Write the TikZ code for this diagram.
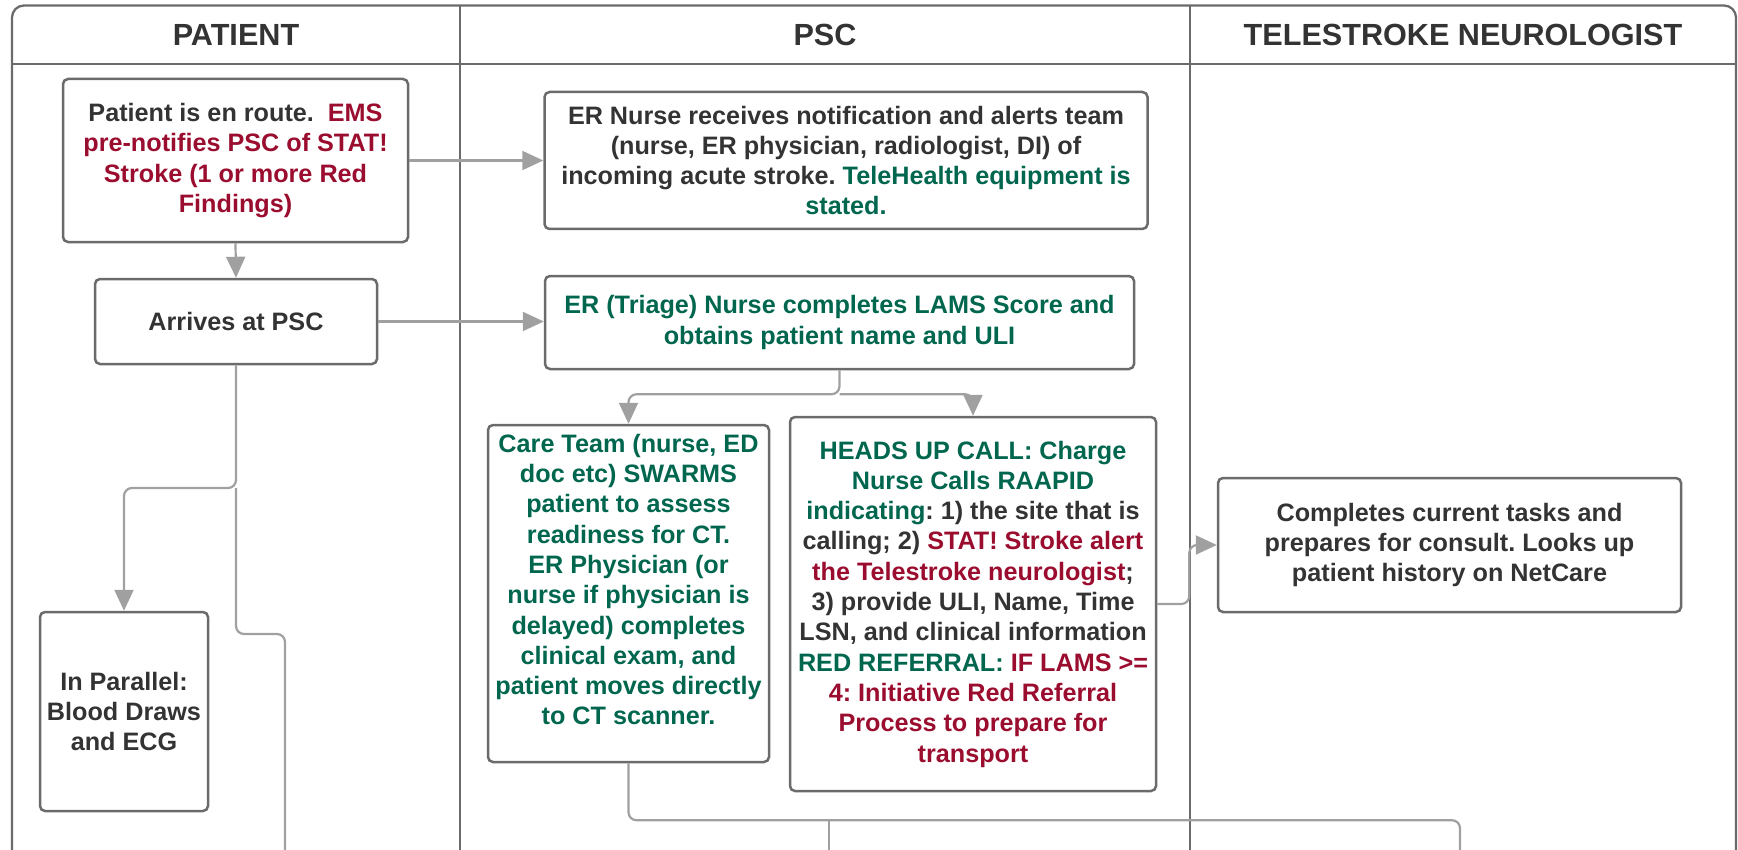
\documentclass[tikz,border=0pt]{standalone}
\usepackage{fontspec}
\setmainfont{Liberation Sans}
\usetikzlibrary{arrows.meta,positioning}
\frenchspacing
\definecolor{txtdark}{HTML}{333333}
\definecolor{strokered}{HTML}{9B0D2F}
\definecolor{teamgreen}{HTML}{00664E}
\definecolor{boxgray}{HTML}{6B6B6B}
\definecolor{linegray}{HTML}{A0A0A0}
\newcommand\redtext[1]{\textcolor{strokered}{#1}}
\newcommand\greentext[1]{\textcolor{teamgreen}{#1}}
\tikzset{box/.style={rectangle,rounded corners=2.5pt,draw=boxgray,line width=1.25pt,align=center,text=txtdark,inner sep=0pt,font=\bfseries\fontsize{12.6}{15.15}\selectfont}}
\tikzset{head/.style={text=txtdark,font=\bfseries\fontsize{15.3}{18}\selectfont}}
\tikzset{lane/.style={draw=boxgray,line width=1.15pt}}
\tikzset{link/.style={draw=linegray,line width=1.1pt,rounded corners=4pt}}
\tikzset{arrow/.style={link,-{Triangle[length=10.5pt,width=9.5pt]}}}

\begin{document}
\begin{tikzpicture}[x=0.5pt,y=-0.5pt]
                \useasboundingbox (0,0) rectangle (1738,850);
                \draw[lane,rounded corners=6pt] (12,850) -- (12,5.5) -- (1736,5.5) -- (1736,850);
                \draw[lane] (12,64) -- (1736,64);
                \foreach \x in {460,1190}{\draw[lane] (\x,5.5) -- (\x,850);}
                \foreach \x/\lbl/\nm in {236/PATIENT/hpat,825/PSC/hpsc,1463/TELESTROKE NEUROLOGIST/htel}{\node[head] (\nm) at (\x,35) {\lbl};}

                \node[box,minimum width=172.5pt,minimum height=81.5pt] (enroute) at (235.5,160.5) {Patient is en route.~ \redtext{EMS}\\ \redtext{pre-notifies PSC of STAT!}\\ \redtext{Stroke (1 or more Red}\\ \redtext{Findings)}};
                \node[box,minimum width=141pt,minimum height=42.5pt] (arrives) at (236,321.5) {Arrives at PSC};
                \node[box,minimum width=84pt,minimum height=99.5pt] (parallel) at (124,711.5) {In Parallel:\\ Blood Draws\\ and ECG};

                \node[box,minimum width=301.5pt,minimum height=68.5pt] (nurse) at (846,160.5) {ER Nurse receives notification and alerts team\\ (nurse, ER physician, radiologist, DI) of\\ incoming acute stroke. \greentext{TeleHealth equipment is}\\ \greentext{stated.}};
                \node[box,minimum width=294.5pt,minimum height=46.5pt,text=teamgreen] (triage) at (839.5,322.5) {ER (Triage) Nurse completes LAMS Score and\\ obtains patient name and ULI};
                \node[box,minimum width=140.5pt,minimum height=168.5pt] (care) at (628.5,593.5) {};
                \node[box,draw=none,text=teamgreen,below=4.5pt of care.north] (caretext) {Care Team (nurse, ED\\ doc etc) SWARMS\\ patient to assess\\ readiness for CT.\\ ER Physician (or\\ nurse if physician is\\ delayed) completes\\ clinical exam, and\\ patient moves directly\\ to CT scanner.};
                \node[box,minimum width=183pt,minimum height=187pt] (headsup) at (973,604) {\greentext{HEADS UP CALL: Charge}\\ \greentext{Nurse Calls RAAPID}\\ \greentext{indicating}: 1) the site that is\\ calling; 2) \redtext{STAT! Stroke alert}\\ \redtext{the Telestroke neurologist};\\ 3) provide ULI, Name, Time\\ LSN, and clinical information\\ \greentext{RED REFERRAL:} \redtext{IF LAMS >=}\\ \redtext{4: Initiative Red Referral}\\ \redtext{Process to prepare for}\\ \redtext{transport}};

                \node[box,minimum width=231.5pt,minimum height=67pt] (consult) at (1449.5,545) {Completes current tasks and\\ prepares for consult. Looks up\\ patient history on NetCare};

                \coordinate (split) at (236,488);
                \coordinate (ptbend) at (285,634);
                \coordinate (ptout) at (285,850);
                \coordinate (ctout) at (829,850);
                \coordinate (neuroout) at (1460,850);

                \draw[arrow] (enroute.east) -- (nurse.west);
                \draw[arrow] (enroute.south) -- (arrives.north);
                \draw[arrow] (arrives.east) -- (arrives.east -| triage.west);
                \draw[arrow] (arrives.south) -- (split) -| (parallel.north);
                \draw[link] (split) |- (ptbend) -- (ptout);
                \draw[arrow] (triage.south) -- ++(0,24) coordinate (tsplit) -| (care.north);
                \draw[arrow] (tsplit) -| (headsup.north);
                \draw[arrow] (headsup.east) -- ++(32,0) |- (consult.west);
                \draw[link] (care.south) -- ++(0,57) coordinate (csplit) -| (neuroout);
                \draw[link] (csplit -| ctout) -- (ctout);
            \end{tikzpicture}
\end{document}
